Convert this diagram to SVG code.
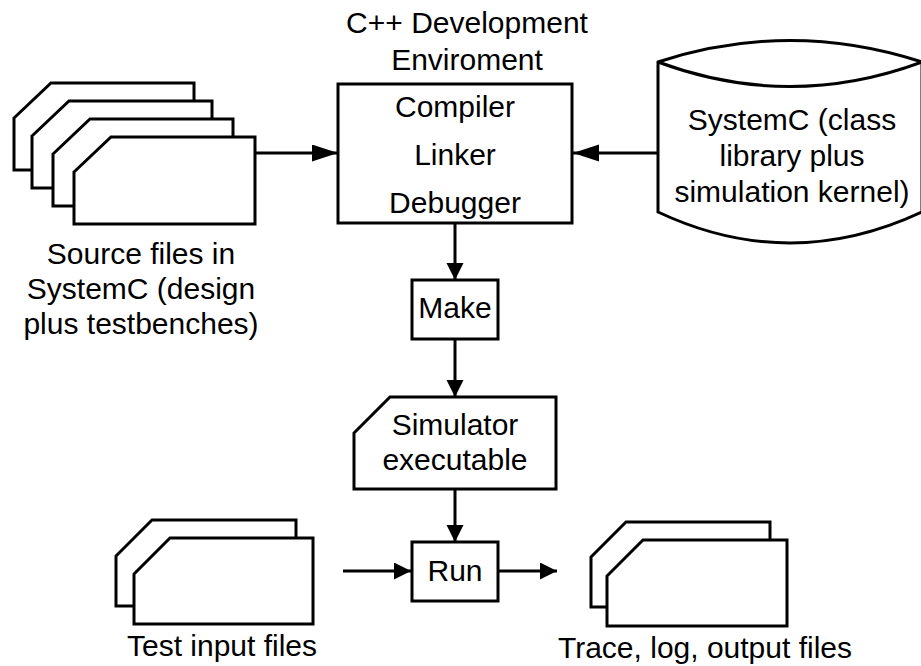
<svg xmlns="http://www.w3.org/2000/svg" width="921" height="666" viewBox="0 0 921 666">
<defs>
<style>
.s{fill:#fff;stroke:#000;stroke-width:3;stroke-linejoin:miter}
.c{fill:none;stroke:#000;stroke-width:3}
text{font-family:"Liberation Sans",Arial,sans-serif;font-size:30px;fill:#000;text-anchor:middle}
</style>
<marker id="big" markerUnits="userSpaceOnUse" markerWidth="27" markerHeight="18" refX="26" refY="8.5" orient="auto"><path d="M0,0 L26,8.5 L0,17 Z" fill="#000"/></marker>
<marker id="sm" markerUnits="userSpaceOnUse" markerWidth="18" markerHeight="18" refX="17" refY="8.5" orient="auto"><path d="M0,0 L17,8.5 L0,17 Z" fill="#000"/></marker>
</defs>
<rect width="921" height="666" fill="#fff"/>
<g id="source-files">
<path class="s" d="M14,118 L51,83 L194,83 L194,170 L14,170 Z"/>
<path class="s" d="M32,136 L69,101 L212,101 L212,188 L32,188 Z"/>
<path class="s" d="M53,154 L90,119 L233,119 L233,206 L53,206 Z"/>
<path class="s" d="M74,172 L111,137 L255,137 L255,224 L74,224 Z"/>
<text x="141" y="264">Source files in</text>
<text x="141" y="299">SystemC (design</text>
<text x="141" y="334">plus testbenches)</text>
</g>
<g id="cpp-env">
<text x="467" y="33">C++ Development</text>
<text x="467" y="70">Enviroment</text>
<rect class="s" x="338" y="84" width="234" height="139"/>
<text x="455" y="117">Compiler</text>
<text x="455" y="165">Linker</text>
<text x="455" y="213">Debugger</text>
</g>
<g id="systemc-lib">
<path class="s" d="M658,62 Q790,19 922,62 L922,212 Q790,274 658,212 Z"/>
<path class="c" d="M658,62 Q790,111 922,62"/>
<text x="792" y="130">SystemC (class</text>
<text x="792" y="166">library plus</text>
<text x="792" y="202">simulation kernel)</text>
</g>
<g id="make">
<rect class="s" x="412" y="280" width="86" height="59"/>
<text x="455" y="318">Make</text>
</g>
<g id="simulator">
<path class="s" d="M354,433 L390,397 L556,397 L556,489 L354,489 Z"/>
<text x="455" y="435">Simulator</text>
<text x="455" y="470">executable</text>
</g>
<g id="run">
<rect class="s" x="412" y="542" width="86" height="59"/>
<text x="455" y="581">Run</text>
</g>
<g id="test-input">
<path class="s" d="M116,556 L152,520 L296,520 L296,606 L116,606 Z"/>
<path class="s" d="M134,574 L170,538 L313,538 L313,624 L134,624 Z"/>
<text x="222" y="656">Test input files</text>
</g>
<g id="trace-files">
<path class="s" d="M591,557 L626,522 L770,522 L770,607 L591,607 Z"/>
<path class="s" d="M607,576 L643,540 L787,540 L787,626 L607,626 Z"/>
<text x="705" y="658">Trace, log, output files</text>
</g>
<g id="connectors">
<path class="c" d="M255,153 L338,153" marker-end="url(#big)"/>
<path class="c" d="M658,153 L573,153" marker-end="url(#big)"/>
<path class="c" d="M455,223 L455,280" marker-end="url(#sm)"/>
<path class="c" d="M455,339 L455,397" marker-end="url(#sm)"/>
<path class="c" d="M455,489 L455,542" marker-end="url(#sm)"/>
<path class="c" d="M343,571 L411,571" marker-end="url(#sm)"/>
<path class="c" d="M498,571 L557,571" marker-end="url(#sm)"/>
</g>
</svg>
